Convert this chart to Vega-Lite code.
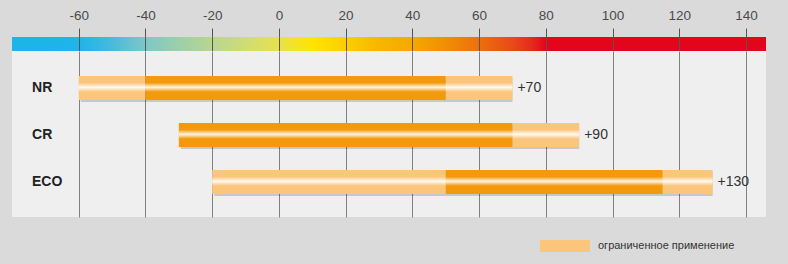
{
  "$schema": "https://vega.github.io/schema/vega-lite/v6.json",
  "background": "#dadada",
  "padding": {"left": 12, "right": 22, "top": 8, "bottom": 13},
  "config": {"view": {"stroke": null}, "font": "Liberation Sans"},
  "datasets": {
    "strip": [{"from": -80, "to": 146}],
    "segments": [
      {"cat": "NR", "start": -60, "end": -40, "type": "limited"},
      {"cat": "NR", "start": -40, "end": 50, "type": "normal"},
      {"cat": "NR", "start": 50, "end": 70, "type": "limited"},
      {"cat": "CR", "start": -30, "end": 70, "type": "normal"},
      {"cat": "CR", "start": 70, "end": 90, "type": "limited"},
      {"cat": "ECO", "start": -20, "end": 50, "type": "limited"},
      {"cat": "ECO", "start": 50, "end": 115, "type": "normal"},
      {"cat": "ECO", "start": 115, "end": 130, "type": "limited"}
    ],
    "ranges": [
      {"cat": "NR", "min": -60, "max": 70, "label": "+70"},
      {"cat": "CR", "min": -30, "max": 90, "label": "+90"},
      {"cat": "ECO", "min": -20, "max": 130, "label": "+130"}
    ]
  },
  "spacing": 0,
  "vconcat": [
    {
      "width": 754,
      "height": 14,
      "data": {"name": "strip"},
      "mark": {
        "type": "rect",
        "color": {
          "gradient": "linear", "x1": 0, "y1": 0, "x2": 1, "y2": 0,
          "stops": [
            {"offset": 0, "color": "#1db4ea"},
            {"offset": 0.0885, "color": "#1fb4ea"},
            {"offset": 0.124, "color": "#3db9e0"},
            {"offset": 0.177, "color": "#7ec7c6"},
            {"offset": 0.221, "color": "#9ccfaa"},
            {"offset": 0.265, "color": "#b8d690"},
            {"offset": 0.31, "color": "#d0dc75"},
            {"offset": 0.354, "color": "#e8e14c"},
            {"offset": 0.398, "color": "#ffe500"},
            {"offset": 0.442, "color": "#fccf00"},
            {"offset": 0.487, "color": "#f8b600"},
            {"offset": 0.531, "color": "#f6a800"},
            {"offset": 0.575, "color": "#f18e04"},
            {"offset": 0.619, "color": "#ed700c"},
            {"offset": 0.664, "color": "#e84a18"},
            {"offset": 0.69, "color": "#e42a1c"},
            {"offset": 0.708, "color": "#e2051c"},
            {"offset": 1, "color": "#e2051c"}
          ]
        }
      },
      "encoding": {
        "x": {
          "field": "from", "type": "quantitative",
          "scale": {"domain": [-80, 146], "nice": false, "zero": false},
          "axis": {
            "orient": "top", "title": null,
            "values": [-60, -40, -20, 0, 20, 40, 60, 80, 100, 120, 140],
            "labelExpr": "'' + datum.value",
            "domain": false,
            "ticks": true, "tickSize": 9, "tickColor": "#555", "tickWidth": 1,
            "grid": true, "gridColor": "#555", "gridWidth": 1,
            "labelFontSize": 13.5, "labelColor": "#4a4a4a", "labelFont": "Liberation Sans",
            "labelBaseline": "alphabetic", "labelPadding": 9,
            "zindex": 1
          }
        },
        "x2": {"field": "to"}
      }
    },
    {
      "width": 754,
      "height": 166,
      "view": {"fill": "#efefef", "stroke": null},
      "layer": [
        {
          "data": {"name": "ranges"},
          "mark": {"type": "bar", "size": 24, "color": "#000", "opacity": 0.16, "xOffset": 2, "yOffset": 2},
          "encoding": {
            "x": {
              "field": "min", "type": "quantitative",
              "scale": {"domain": [-80, 146], "nice": false, "zero": false},
              "axis": {
                "orient": "top", "title": null,
                "values": [-60, -40, -20, 0, 20, 40, 60, 80, 100, 120, 140],
                "labels": false, "ticks": false, "domain": false,
                "grid": true, "gridColor": "#808080", "gridWidth": 1
              }
            },
            "x2": {"field": "max"},
            "y": {
              "field": "cat", "type": "nominal",
              "scale": {"domain": ["NR", "CR", "ECO"], "paddingInner": 0, "paddingOuter": 0.266, "align": 0.54},
              "axis": null
            }
          }
        },
        {
          "data": {"name": "segments"},
          "transform": [{"filter": "datum.type === 'limited'"}],
          "mark": {"type": "bar", "size": 24},
          "encoding": {
            "x": {"field": "start", "type": "quantitative"},
            "x2": {"field": "end"},
            "y": {"field": "cat", "type": "nominal"},
            "color": {
              "datum": "ограниченное применение", "type": "nominal",
              "scale": {"range": ["#fbc67c"]},
              "legend": {
                "title": null, "orient": "none", "legendX": 528, "legendY": 184,
                "symbolType": "M-1,-0.24H1V0.24H-1Z", "symbolSize": 2500,
                "symbolStrokeWidth": 0, "symbolOpacity": 1,
                "labelFontSize": 11, "labelColor": "#333", "labelFont": "Liberation Sans",
                "labelOffset": 8, "padding": 0
              }
            }
          }
        },
        {
          "data": {"name": "segments"},
          "transform": [{"filter": "datum.type === 'normal'"}],
          "mark": {"type": "bar", "size": 24, "color": "#f29a0b"},
          "encoding": {
            "x": {"field": "start", "type": "quantitative"},
            "x2": {"field": "end"},
            "y": {"field": "cat", "type": "nominal"}
          }
        },
        {
          "data": {"name": "ranges"},
          "mark": {
            "type": "bar", "size": 24,
            "color": {
              "gradient": "linear", "x1": 0, "y1": 0, "x2": 0, "y2": 1,
              "stops": [
                {"offset": 0, "color": "rgba(255,255,255,0)"},
                {"offset": 0.28, "color": "rgba(255,255,255,0)"},
                {"offset": 0.47, "color": "rgba(255,255,255,0.9)"},
                {"offset": 0.66, "color": "rgba(255,255,255,0)"},
                {"offset": 1, "color": "rgba(255,255,255,0)"}
              ]
            }
          },
          "encoding": {
            "x": {"field": "min", "type": "quantitative"},
            "x2": {"field": "max"},
            "y": {"field": "cat", "type": "nominal"}
          }
        },
        {
          "data": {"name": "ranges"},
          "mark": {"type": "text", "align": "left", "baseline": "middle", "dx": 5, "fontSize": 14, "color": "#333", "font": "Liberation Sans"},
          "encoding": {
            "x": {"field": "max", "type": "quantitative"},
            "y": {"field": "cat", "type": "nominal"},
            "text": {"field": "label"}
          }
        },
        {
          "data": {"name": "ranges"},
          "mark": {"type": "text", "align": "left", "baseline": "middle", "fontSize": 14, "fontWeight": "bold", "color": "#222", "font": "Liberation Sans"},
          "encoding": {
            "x": {"datum": -74, "type": "quantitative"},
            "y": {"field": "cat", "type": "nominal"},
            "text": {"field": "cat"}
          }
        }
      ]
    }
  ]
}
